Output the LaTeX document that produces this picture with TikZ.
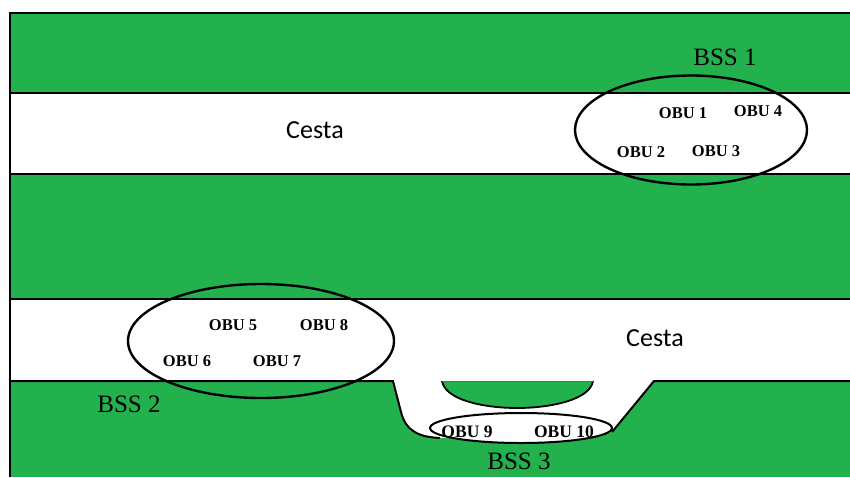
\documentclass[tikz,border=0pt]{standalone}
\usepackage{fontspec}
\setmainfont{Liberation Serif}
\newfontfamily\cestafont{Carlito}
\usetikzlibrary{shapes.geometric}

\definecolor{grass}{RGB}{35,177,77}

\tikzset{
  edge/.style={line width=2pt},
  bss/.style={draw, ellipse, line width=2.4pt, inner sep=0pt},
  obu/.style={font=\fontsize{16.5}{17}\selectfont\bfseries},
  bsslabel/.style={font=\fontsize{25}{25}\selectfont},
  cesta/.style={font=\fontsize{26}{26}\selectfont\cestafont}
}

\begin{document}
\begin{tikzpicture}[x=1pt, y=-1pt]
\useasboundingbox (0,0) rectangle (850,477);

% grass and the two roads
\fill[grass] (10,13) rectangle (850,477);
\fill[white] (10,93) rectangle (850,174);
\fill[white] (10,299) rectangle (850,381);
\fill[white] (393,380) -- (401,412) .. controls (406,432) and (420,437) .. (440,438)
  -- (612,432) -- (654,380) -- cycle;

% road edges
\draw[edge] (850,13) -- (10,13) -- (10,477);
\draw[edge] (10,93) -- (850,93);
\draw[edge] (10,174) -- (850,174);
\draw[edge] (10,299) -- (850,299);
\draw[edge] (10,381) -- (393,381) -- (401,412) .. controls (406,432) and (420,437) .. (440,438);
\draw[edge] (612,432) -- (654,381) -- (850,381);

% island in the bay
\fill[grass] (442,381) -- (593,381) .. controls (590,400) and (550,408) .. (517,408)
  .. controls (484,408) and (445,400) .. (442,381) -- cycle;
\draw[line width=1.8pt] (593,381) .. controls (590,400) and (550,408) .. (517,408)
  .. controls (484,408) and (445,400) .. (442,381);
\draw[line width=0.5pt, black!60] (442,381) -- (593,381);

% base stations
\node[bss, minimum width=232pt, minimum height=109pt] (bss1) at (691,130) {};
\node[bss, minimum width=266pt, minimum height=114pt] (bss2) at (261,341) {};
\node[bss, line width=2pt, fill=white, minimum width=182pt, minimum height=30pt] (bss3) at (521,428) {};

\node[bsslabel] (l1) at (725,57) {BSS 1};
\node[bsslabel] (l2) at (129,404) {BSS 2};
\node[bsslabel] (l3) at (519,461) {BSS 3};

\node[cesta] (c1) at (315,130) {Cesta};
\node[cesta] (c2) at (655,338) {Cesta};

% on-board units
\node[obu] (o1) at (683,113) {OBU 1};
\node[obu] (o4) at (758,111) {OBU 4};
\node[obu] (o2) at (641,152) {OBU 2};
\node[obu] (o3) at (716,151) {OBU 3};

\node[obu] (o5) at (233,325) {OBU 5};
\node[obu] (o8) at (324,325) {OBU 8};
\node[obu] (o6) at (187,361) {OBU 6};
\node[obu] (o7) at (277,361) {OBU 7};

\node[obu, font=\fontsize{17.5}{18}\selectfont\bfseries] (o9) at (467,432) {OBU 9};
\node[obu, font=\fontsize{17.5}{18}\selectfont\bfseries] (o10) at (564,432) {OBU 10};

\end{tikzpicture}
\end{document}
